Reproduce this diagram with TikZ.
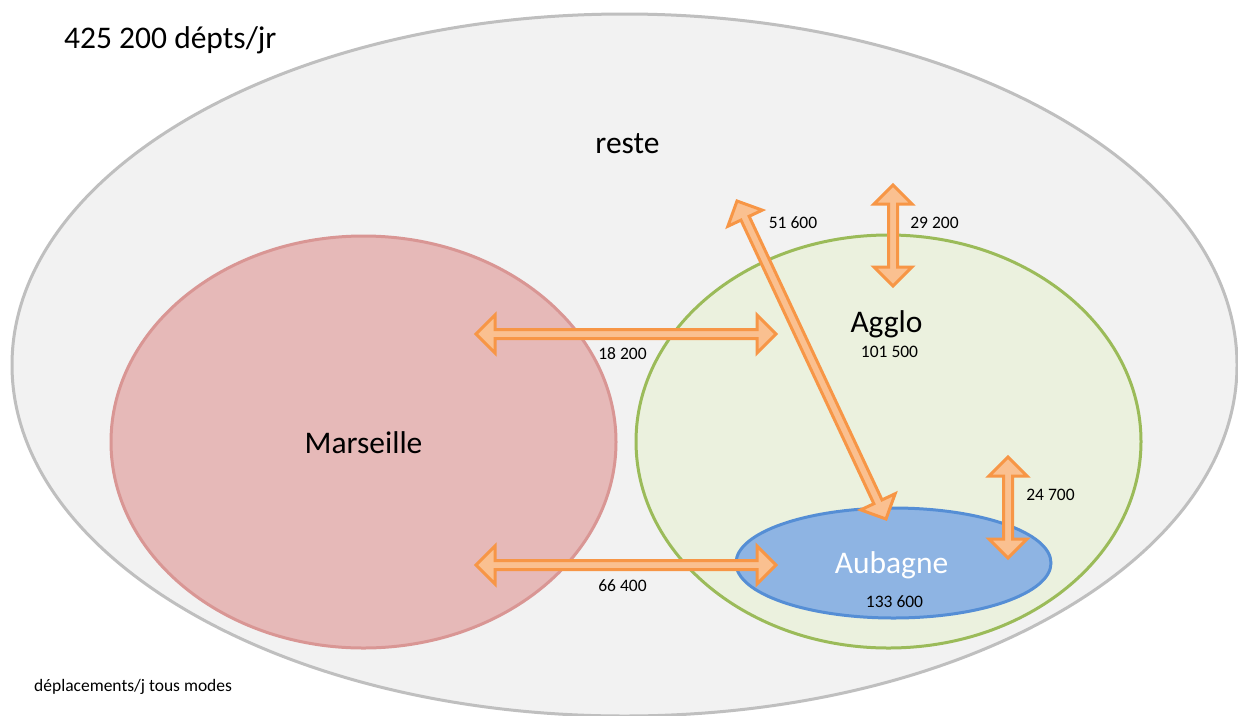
\documentclass[tikz,border=0pt]{standalone}
\usepackage{fontspec}
\setmainfont{Carlito}
\usetikzlibrary{calc}

\definecolor{resteFill}{HTML}{F2F2F2}
\definecolor{resteLine}{HTML}{BFBFBF}
\definecolor{marsFill}{HTML}{E6B9B8}
\definecolor{marsLine}{HTML}{D99694}
\definecolor{aggloFill}{HTML}{EBF1DE}
\definecolor{aggloLine}{HTML}{9BBB59}
\definecolor{aubFill}{HTML}{8EB4E3}
\definecolor{aubLine}{HTML}{558ED5}
\definecolor{flowLine}{HTML}{F79646}
\definecolor{flowFill}{HTML}{FAC090}

% geometry of the block arrows
\def\headlen{19pt}
\def\headhalf{19pt}
\def\shafthalf{4.5pt}

% double-headed block arrow between two named coordinates
\newcommand\flowarrow[2]{%
  \draw[flow] (#1)
    -- ($(#1)!\headlen!(#2)!\headhalf!90:(#2)$)
    -- ($(#1)!\headlen!(#2)!\shafthalf!90:(#2)$)
    -- ($(#2)!\headlen!(#1)!\shafthalf!-90:(#1)$)
    -- ($(#2)!\headlen!(#1)!\headhalf!-90:(#1)$)
    -- (#2)
    -- ($(#2)!\headlen!(#1)!\headhalf!90:(#1)$)
    -- ($(#2)!\headlen!(#1)!\shafthalf!90:(#1)$)
    -- ($(#1)!\headlen!(#2)!\shafthalf!-90:(#2)$)
    -- ($(#1)!\headlen!(#2)!\headhalf!-90:(#2)$)
    -- cycle;%
}

\tikzset{
  zone/.style={line width=3pt},
  flow/.style={draw=flowLine, fill=flowFill, line width=3pt, line join=miter},
  big/.style={font=\fontsize{31.5}{36}\selectfont, anchor=base, inner sep=0pt},
  small/.style={font=\fontsize{17.5}{21}\selectfont, anchor=base, inner sep=0pt},
}

\begin{document}
\begin{tikzpicture}[x=1pt, y=-1pt]
  \useasboundingbox (0,0) rectangle (1238,715);
  \fill[white] (0,0) rectangle (1238,715);

  % zones
  \begin{scope}
    \clip (0,0) rectangle (1238,715);
    \draw[zone, draw=resteLine, fill=resteFill] (624.5,365) ellipse [x radius=612.5, y radius=351];
  \end{scope}
  \draw[zone, draw=marsLine, fill=marsFill] (363.5,442) ellipse [x radius=252.5, y radius=206];
  \draw[zone, draw=aggloLine, fill=aggloFill] (888.5,441.5) ellipse [x radius=252.5, y radius=206.5];
  \draw[zone, draw=aubLine, fill=aubFill] (893.5,563) ellipse [x radius=157.5, y radius=55];

  % arrow end points
  \coordinate (ma) at (476,334);
  \coordinate (mb) at (776,334);
  \coordinate (sa) at (476,565);
  \coordinate (sb) at (776,565);
  \coordinate (ra) at (893,185);
  \coordinate (rb) at (893,286);
  \coordinate (ua) at (1008,457);
  \coordinate (ub) at (1008,558);
  \coordinate (da) at (737,201);
  \coordinate (db) at (886,519);

  % flows
  \flowarrow{ma}{mb}
  \flowarrow{sa}{sb}
  \flowarrow{ra}{rb}
  \flowarrow{ua}{ub}
  \flowarrow{da}{db}

  % labels
  \node[big, anchor=base west] (total) at (64,48) {425 200 dépts/jr};
  \node[big] (reste) at (627.5,153) {reste};
  \node[big] (mars) at (363.5,453) {Marseille};
  \node[big] (agglo) at (886.5,332) {Agglo};
  \node[big, text=white] (aub) at (891.5,573) {Aubagne};

  \node[small] (nagglo) at (889.5,357) {101 500};
  \node[small] (naub) at (894.5,607) {133 600};
  \node[small] (nma) at (622.5,359) {18 200};
  \node[small] (nsa) at (622.5,591) {66 400};
  \node[small] (nda) at (793,228) {51 600};
  \node[small] (nra) at (934.5,228) {29 200};
  \node[small] (nua) at (1050.5,500) {24 700};
  \node[small, anchor=base west] (legend) at (34,691) {déplacements/j tous modes};
\end{tikzpicture}
\end{document}
